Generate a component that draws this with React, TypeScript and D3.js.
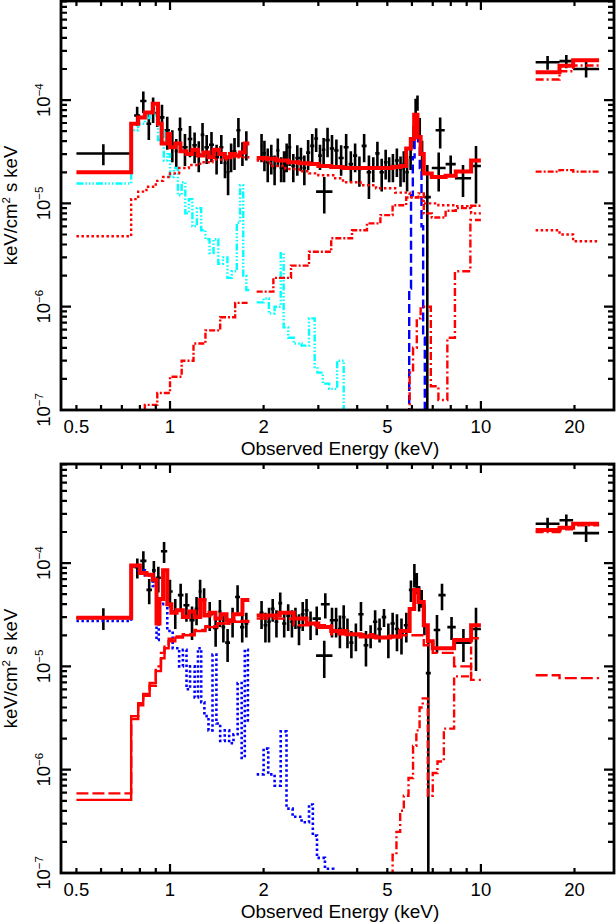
import * as d3 from 'd3'
import React from 'react'

// ---- layout ----
const W = 616
const H = 923
const X0 = 61
const X1 = 614
const PANEL_H = 409
const TOP_Y0 = 1
const BOT_Y0 = 464
const FONT = '"Liberation Sans", Arial, Helvetica, sans-serif'

// ---- axes ----
const E_MIN = 0.446
const E_MAX = 26.8
const F_MIN = 1e-7
const F_MAX = 9.1e-4
const xTickLabels = [0.5, 1, 2, 5, 10, 20]
const yTickExps = [-7, -6, -5, -4]

// ---- black data: [E, flux, err] (dense) and [Elo, Ehi, flux, err] (wide bins) ----
const topSoftData = [
  [0.784, 7.1e-5, 1.5e-5], [0.82, 9.8e-5, 2.3e-5], [0.86, 5.9e-5, 1.8e-5], [0.88, 8.3e-5, 2.3e-5],
  [0.91, 7.5e-5, 2.0e-5], [0.94, 6.8e-5, 2.2e-5], [0.98, 5.1e-5, 1.8e-5], [1.02, 3.8e-5, 1.3e-5],
  [1.05, 3.2e-5, 1.0e-5], [1.07, 5.2e-5, 1.6e-5], [1.12, 3.5e-5, 1.2e-5], [1.16, 4.2e-5, 1.4e-5],
  [1.2, 3.65e-5, 1.2e-5], [1.24, 3.0e-5, 1.0e-5], [1.27, 4.6e-5, 1.4e-5], [1.31, 3.5e-5, 1.1e-5],
  [1.36, 3.7e-5, 1.2e-5], [1.41, 2.8e-5, 9e-6], [1.47, 3.5e-5, 1.1e-5], [1.5, 2.45e-5, 7e-6],
  [1.54, 2.0e-5, 8e-6], [1.57, 2.9e-5, 9e-6], [1.61, 3.2e-5, 1.1e-5], [1.66, 5.1e-5, 1.6e-5],
  [1.71, 3.1e-5, 8e-6], [1.76, 3.8e-5, 1.2e-5],
]
const topHardData = [
  [1.97, 3.6e-5, 1.1e-5], [2.01, 3.05e-5, 1.0e-5], [2.06, 2.5e-5, 9e-6], [2.12, 2.8e-5, 9e-6],
  [2.17, 2.2e-5, 7e-6], [2.22, 3.25e-5, 1.0e-5], [2.28, 2.2e-5, 6e-6], [2.33, 2.4e-5, 8e-6],
  [2.37, 2.9e-5, 9e-6], [2.42, 3.5e-5, 1.2e-5], [2.49, 2.3e-5, 7e-6], [2.57, 2.75e-5, 9e-6],
  [2.64, 2.75e-5, 7e-6], [2.7, 2.2e-5, 7e-6], [2.78, 3.1e-5, 1.0e-5], [2.87, 3.6e-5, 1.1e-5],
  [2.95, 4.25e-5, 1.1e-5], [3.04, 2.9e-5, 8e-6], [3.12, 3.3e-5, 1.0e-5], [3.2, 4.1e-5, 1.3e-5],
  [3.33, 3.4e-5, 1.2e-5], [3.42, 3.25e-5, 9e-6], [3.55, 2.75e-5, 9e-6], [3.69, 3.5e-5, 1.2e-5],
  [3.82, 2.4e-5, 8e-6], [3.94, 2.9e-5, 9e-6], [4.06, 2.15e-5, 7e-6], [4.21, 3.6e-5, 1.1e-5],
  [4.37, 2.0e-5, 9e-6], [4.51, 2.2e-5, 6e-6], [4.64, 3.05e-5, 9e-6], [4.8, 2.0e-5, 7e-6],
  [4.95, 2.5e-5, 8e-6], [5.06, 2.2e-5, 6e-6], [5.21, 2.3e-5, 7e-6], [5.37, 2.6e-5, 8e-6],
  [5.52, 2.15e-5, 7e-6], [5.65, 2.4e-5, 8e-6], [5.78, 2.0e-5, 7e-6], [5.95, 2.8e-5, 7e-6],
  [6.09, 4.5e-5, 1.1e-5], [6.17, 8.5e-5, 1.8e-5], [6.24, 9.5e-5, 1.6e-5], [6.36, 5.4e-5, 1.3e-5],
  [6.47, 3.05e-5, 1.0e-5],
]
const topWideData = [
  [0.5, 0.745, 3.04e-5, 7e-6], [2.95, 3.33, 1.3e-5, 5e-6], [6.55, 6.9, 1.15e-5, 1.2e-5],
  [6.95, 7.7, 2.2e-5, 9e-6], [7.15, 7.65, 5.1e-5, 1.7e-5], [7.7, 8.3, 2.4e-5, 5e-6],
  [8.25, 9.3, 1.75e-5, 6e-6], [9.3, 10.0, 2.3e-5, 1.3e-5],
  [15.0, 17.9, 2.32e-4, 3.5e-5], [17.9, 19.8, 2.38e-4, 3.5e-5], [19.8, 24.0, 2.0e-4, 3.5e-5],
]

const botSoftData = [
  [0.785, 9.1e-5, 2.0e-5], [0.82, 1.05e-4, 2.5e-5], [0.86, 5.5e-5, 1.5e-5], [0.89, 8.5e-5, 2.0e-5],
  [0.91, 7.2e-5, 2.0e-5], [0.96, 1.3e-4, 3.0e-5], [1.0, 5.3e-5, 1.6e-5], [1.04, 3.4e-5, 1.1e-5],
  [1.08, 4.9e-5, 1.4e-5], [1.13, 3.9e-5, 1.2e-5], [1.18, 2.8e-5, 1.0e-5], [1.22, 3.6e-5, 1.1e-5],
  [1.25, 5.3e-5, 1.6e-5], [1.28, 4.4e-5, 1.3e-5], [1.34, 3.2e-5, 1.0e-5], [1.41, 2.35e-5, 8e-6],
  [1.45, 3.4e-5, 1.0e-5], [1.48, 2.4e-5, 7e-6], [1.53, 1.7e-5, 6e-6], [1.59, 2.8e-5, 9e-6],
  [1.65, 4.7e-5, 1.4e-5], [1.71, 2.4e-5, 7e-6], [1.76, 2.6e-5, 7e-6],
]
const botHardData = [
  [1.97, 3.3e-5, 1.0e-5], [2.03, 2.5e-5, 8e-6], [2.08, 2.7e-5, 1.0e-5], [2.14, 3.6e-5, 9e-6],
  [2.2, 2.7e-5, 8e-6], [2.26, 4.1e-5, 1.1e-5], [2.33, 2.6e-5, 7e-6], [2.4, 3.1e-5, 9e-6],
  [2.47, 2.7e-5, 8e-6], [2.53, 3.0e-5, 7e-6], [2.6, 2.4e-5, 8e-6], [2.67, 3.2e-5, 1.0e-5],
  [2.75, 3.5e-5, 1.0e-5], [2.83, 2.6e-5, 8e-6], [2.92, 2.9e-5, 9e-6], [3.2, 4.0e-5, 1.1e-5],
  [3.33, 2.8e-5, 9e-6], [3.42, 2.8e-5, 9e-6], [3.52, 2.3e-5, 8e-6], [3.62, 3.0e-5, 9e-6],
  [3.72, 2.2e-5, 7e-6], [3.83, 1.7e-5, 5e-6], [3.95, 2.0e-5, 6e-6], [4.12, 3.2e-5, 1.0e-5],
  [4.27, 1.6e-5, 6e-6], [4.42, 2.0e-5, 5e-6], [4.57, 2.7e-5, 8e-6], [4.72, 2.3e-5, 6e-6],
  [4.88, 3.0e-5, 6e-6], [5.04, 1.9e-5, 7e-6], [5.2, 2.6e-5, 7e-6], [5.37, 2.3e-5, 9e-6],
  [5.55, 2.1e-5, 8e-6], [5.75, 2.5e-5, 8e-6], [5.98, 5.5e-5, 1.3e-5], [6.12, 7.8e-5, 2.0e-5],
  [6.22, 6.5e-5, 1.5e-5], [6.32, 4.7e-5, 1.3e-5], [6.45, 4.6e-5, 9e-6], [6.58, 3.0e-5, 1.0e-5],
]
const botWideData = [
  [0.5, 0.745, 2.95e-5, 7e-6], [2.95, 3.33, 1.27e-5, 5e-6], [6.65, 6.9, 8.6e-6, 9.5e-6],
  [7.05, 7.4, 2.25e-5, 9e-6], [7.3, 7.7, 4.9e-5, 1.4e-5], [7.8, 8.3, 2.4e-5, 6e-6],
  [8.3, 9.3, 1.7e-5, 6e-6], [9.3, 10.0, 2.3e-5, 1.4e-5],
  [15.0, 17.9, 2.4e-4, 3.5e-5], [17.9, 19.8, 2.6e-4, 3.5e-5], [19.8, 24.0, 1.95e-4, 3.5e-5],
]

// ---- model step curves: bin edges + flux per bin (NaN = no bin) ----
const topTotalEdges = [
  0.5, 0.75, 0.79, 0.83, 0.88, 0.915, 0.94, 0.98, 1.0, 1.04, 1.08, 1.13, 1.18, 1.23, 1.28, 1.33,
  1.38, 1.44, 1.5, 1.56, 1.62, 1.68, 1.74, 1.8,
  1.9, 2.05, 2.2, 2.4, 2.6, 2.8, 3.0, 3.3, 3.6, 4.0, 4.4, 4.8, 5.2, 5.5, 5.75, 5.95, 6.1, 6.25,
  6.4, 6.55, 6.95, 7.7, 8.3, 9.3, 10.0,
  15.0, 17.9, 19.8, 24.0,
]
const topTotalFlux = [
  2.0e-5, 5.9e-5, 6.8e-5, 7.6e-5, 9.2e-5, 5.9e-5, 3.8e-5, 4.7e-5, 3.5e-5, 3.8e-5, 3.2e-5, 3.0e-5,
  3.3e-5, 2.9e-5, 3.1e-5, 2.8e-5, 3.3e-5, 3.0e-5, 2.8e-5, 3.0e-5, 2.9e-5, 3.1e-5, 3.8e-5,
  NaN,
  2.75e-5, 2.7e-5, 2.6e-5, 2.5e-5, 2.45e-5, 2.4e-5, 2.3e-5, 2.25e-5, 2.2e-5, 2.2e-5, 2.2e-5,
  2.2e-5, 2.25e-5, 2.3e-5, 3.4e-5, 4.2e-5, 7.2e-5, 4.4e-5, 3.0e-5, 1.95e-5, 1.8e-5, 1.85e-5,
  2.03e-5, 2.6e-5,
  NaN,
  1.86e-4, 2.15e-4, 2.43e-4,
]
const topSoftPlEdges = [
  0.5, 0.75, 0.79, 0.84, 0.9, 0.95, 1.0, 1.07, 1.15, 1.25, 1.37, 1.52, 1.8,
  1.9, 2.1, 2.35, 2.6, 2.8, 3.0, 3.35, 3.6, 4.1, 4.6, 5.3, 5.9, 6.5, 7.3, 8.3, 9.3, 10.0,
  15.0, 17.9, 19.8, 24.0,
]
const topSoftPlFlux = [
  4.8e-6, 1.1e-5, 1.3e-5, 1.45e-5, 1.65e-5, 1.8e-5, 1.95e-5, 2.2e-5, 2.35e-5, 2.5e-5, 2.65e-5, 2.8e-5,
  NaN,
  2.6e-5, 2.3e-5, 2.15e-5, 2.05e-5, 1.95e-5, 1.87e-5, 1.75e-5, 1.6e-5, 1.5e-5, 1.4e-5, 1.27e-5,
  1.15e-5, 1.0e-5, 9.6e-6, 9.4e-6, 8.0e-6,
  NaN,
  5.5e-6, 5.0e-6, 4.3e-6,
]
const topAbsPlEdges = [
  0.8, 0.83, 0.91, 1.0, 1.09, 1.19, 1.3, 1.45, 1.62, 1.8,
  1.9, 2.15, 2.45, 2.8, 3.3, 3.85, 4.3, 4.75, 5.2, 5.75, 6.3, 6.55, 6.95, 7.7, 8.3, 9.3, 10.0,
  15.0, 17.9, 19.8, 24.0,
]
const topAbsPlFlux = [
  5e-8, 1.12e-7, 1.46e-7, 2.1e-7, 3.0e-7, 4.4e-7, 5.9e-7, 7.9e-7, 1.09e-6,
  NaN,
  1.4e-6, 1.9e-6, 2.5e-6, 3.4e-6, 4.6e-6, 5.5e-6, 6.4e-6, 7.7e-6, 9.6e-6, 1.14e-5, 1.25e-5,
  8.0e-6, 7.3e-6, 8.5e-6, 9.0e-6, 9.5e-6,
  NaN,
  2.03e-5, 2.1e-5, 2.03e-5,
]
const topThickEdges = [5.6, 5.9, 6.05, 6.22, 6.4, 6.9, 7.3, 7.8, 8.25, 9.25, 10.0, 15.0, 17.9, 19.8, 24.0]
const topThickFlux = [5e-8, 2.3e-7, 4e-7, 7.7e-7, 1.0e-6, 1.7e-7, 1.25e-7, 5e-7, 2.2e-6, 6.9e-6, NaN, 1.58e-4, 1.9e-4, 2.16e-4]
const topLineEdges = [5.8, 5.88, 5.96, 6.04, 6.12, 6.2, 6.28, 6.36, 6.44, 6.52, 6.6, 6.68]
const topLineFlux = [5e-8, 1.5e-6, 1.2e-5, 2.8e-5, 4.3e-5, 5.0e-5, 4.0e-5, 2.2e-5, 6e-6, 5e-7, 3e-8]
const topThermalEdges = [
  0.5, 0.75, 0.79, 0.83, 0.86, 0.89, 0.915, 0.935, 0.955, 0.98, 1.0, 1.03, 1.06, 1.09, 1.12, 1.15,
  1.18, 1.22, 1.26, 1.3, 1.34, 1.38, 1.43, 1.48, 1.53, 1.58, 1.64, 1.68, 1.72, 1.76, 1.8,
  1.9, 2.0, 2.08, 2.17, 2.27, 2.32, 2.4, 2.5, 2.65, 2.8, 2.92, 2.98, 3.1, 3.25, 3.45, 3.62, 3.7,
]
const topThermalFlux = [
  1.56e-5, 5.1e-5, 5.9e-5, 6.7e-5, 7.6e-5, 7.1e-5, 4.1e-5, 5.0e-5, 2.6e-5, 3.0e-5, 1.8e-5, 2.2e-5,
  1.2e-5, 1.6e-5, 8e-6, 1.1e-5, 6e-6, 9e-6, 5.5e-6, 4.5e-6, 3.3e-6, 4.5e-6, 2.6e-6, 3.0e-6, 1.9e-6,
  2.2e-6, 6.5e-6, 1.5e-5, 2.0e-6, 1.45e-6,
  NaN,
  1.1e-6, 1.2e-6, 8.6e-7, 1.0e-6, 3.3e-6, 6.3e-7, 5.0e-7, 4.4e-7, 4.2e-7, 7.7e-7, 2.6e-7, 2.3e-7,
  1.8e-7, 1.6e-7, 3e-7, 5e-8,
]

const botTotalEdges = [
  0.5, 0.75, 0.8, 0.84, 0.88, 0.905, 0.925, 0.95, 0.98, 1.01, 1.05, 1.1, 1.15, 1.2, 1.25, 1.29,
  1.34, 1.4, 1.46, 1.52, 1.6, 1.71, 1.8,
  1.9, 2.25, 2.5, 2.75, 3.0, 3.3, 3.7, 4.1, 4.6, 5.1, 5.5, 5.9, 6.1, 6.3, 6.55, 6.75, 7.0, 8.2,
  9.3, 10.0,
  15.0, 17.9, 19.8, 24.0,
]
const botTotalFlux = [
  2.95e-5, 9.5e-5, 8.0e-5, 7.7e-5, 6.9e-5, 2.6e-5, 4.5e-5, 8.5e-5, 4.0e-5, 3.3e-5, 3.5e-5, 3.0e-5,
  3.4e-5, 3.0e-5, 4.4e-5, 3.1e-5, 3.3e-5, 2.9e-5, 3.2e-5, 2.8e-5, 3.2e-5, 4.4e-5,
  NaN,
  3.1e-5, 3.3e-5, 2.9e-5, 2.6e-5, 2.4e-5, 2.2e-5, 2.05e-5, 1.95e-5, 1.9e-5, 1.95e-5, 2.2e-5,
  3.6e-5, 5.5e-5, 4.2e-5, 2.5e-5, 1.75e-5, 1.5e-5, 1.8e-5, 2.5e-5,
  NaN,
  2.09e-4, 2.2e-4, 2.4e-4,
]
const botScatEdges = [
  0.5, 0.75, 0.79, 0.82, 0.86, 0.9, 0.935, 0.96, 0.99, 1.04, 1.1, 1.2, 1.3, 1.42, 1.55, 1.8,
  1.9, 2.5, 3.3, 4.5, 5.5, 6.55, 7.0, 8.2, 9.3, 10.0,
  15.0, 17.9, 24.0,
]
const botScatFlux = [
  5.9e-7, 3.3e-6, 4.4e-6, 5.4e-6, 6.5e-6, 1.0e-5, 1.35e-5, 1.6e-5, 1.85e-5, 1.95e-5, 2.05e-5,
  2.25e-5, 2.45e-5, 2.6e-5, 2.75e-5,
  NaN,
  2.9e-5, 2.5e-5, 2.05e-5, 1.9e-5, 2.0e-5, 1.6e-5, 1.35e-5, 1.0e-5, 7.4e-6,
  NaN,
  8.2e-6, 7.7e-6,
]
const botAbsEdges = [0.5, 0.75, 0.79, 0.82, 0.86, 0.9, 0.935, 0.96, 0.99, 1.04, 1.1, 1.2, 1.3, 1.42, 1.55, 1.8]
const botAbsFlux = [
  5.1e-7, 3.1e-6, 4.2e-6, 5.2e-6, 6.9e-6, 9.0e-6, 1.2e-5, 1.5e-5, 1.75e-5, 1.9e-5, 2.0e-5, 2.2e-5,
  2.4e-5, 2.6e-5, 2.7e-5,
]
const botThickEdges = [
  5.0, 5.2, 5.35, 5.5, 5.65, 5.85, 6.05, 6.2, 6.35, 6.5, 6.75, 7.0, 7.25, 7.6, 8.2, 9.3, 10.0,
  15.0, 17.9, 19.8, 24.0,
]
const botThickFlux = [
  5e-8, 1.5e-7, 2.5e-7, 4e-7, 5.6e-7, 8.3e-7, 1.7e-6, 2.4e-6, 4.0e-6, 4.9e-6, 5.6e-7, 9.3e-7,
  1.2e-6, 2.5e-6, 8e-6, 1.87e-5,
  NaN,
  2.0e-4, 2.12e-4, 2.32e-4,
]
const botThermalEdges = [
  0.5, 0.75, 0.79, 0.83, 0.88, 0.905, 0.92, 0.95, 0.98, 1.02, 1.07, 1.1, 1.13, 1.16, 1.2, 1.23,
  1.26, 1.29, 1.33, 1.37, 1.41, 1.45, 1.5, 1.55, 1.6, 1.65, 1.7, 1.74, 1.78, 1.8,
  1.9, 2.0, 2.07, 2.17, 2.27, 2.37, 2.48, 2.65, 2.8, 2.88, 2.97, 3.15, 3.35, 3.6,
]
const botThermalFlux = [
  2.75e-5, 9.3e-5, 8.5e-5, 7.6e-5, 6.0e-5, 1.8e-5, 4.0e-5, 8.0e-5, 2.2e-5, 1.5e-5, 1.0e-5, 1.45e-5,
  6e-6, 1.0e-5, 5e-6, 1.5e-5, 4.5e-6, 3.3e-6, 2.4e-6, 1.3e-5, 2.8e-6, 1.9e-6, 2.4e-6, 1.8e-6,
  2.2e-6, 6.9e-6, 1.3e-6, 1.45e-5, 3e-6,
  NaN,
  9e-7, 1.6e-6, 9e-7, 7e-7, 2.35e-6, 4.2e-7, 3.5e-7, 3.1e-7, 4.6e-7, 2.3e-7, 1.4e-7, 1.1e-7, 7e-8,
]

type Curve = { edges: number[]; flux: number[]; color: string; width: number; dash?: string }

const RED = '#ff0000'
const topCurves: Curve[] = [
  { edges: topThermalEdges, flux: topThermalFlux, color: '#00ffff', width: 2.4, dash: '7,2,1.5,2,1.5,2,1.5,2' },
  { edges: topLineEdges, flux: topLineFlux, color: '#0000ff', width: 2.4, dash: '9,4' },
  { edges: topSoftPlEdges, flux: topSoftPlFlux, color: RED, width: 2.4, dash: '2.5,2.5' },
  { edges: topAbsPlEdges, flux: topAbsPlFlux, color: RED, width: 2.4, dash: '6,2,2,2' },
  { edges: topThickEdges, flux: topThickFlux, color: RED, width: 2.4, dash: '8,3,2,3' },
  { edges: topTotalEdges, flux: topTotalFlux, color: RED, width: 4 },
]
const botCurves: Curve[] = [
  { edges: botThermalEdges, flux: botThermalFlux, color: '#0000ff', width: 2.6, dash: '2.5,2.5' },
  { edges: botAbsEdges, flux: botAbsFlux, color: RED, width: 2.4 },
  { edges: botScatEdges, flux: botScatFlux, color: RED, width: 2.4, dash: '12,4' },
  { edges: botThickEdges, flux: botThickFlux, color: RED, width: 2.4, dash: '8,3,2,3' },
  { edges: botTotalEdges, flux: botTotalFlux, color: RED, width: 4 },
]

// bin limits for densely sampled points: half way (in log) to the neighbours
function withBins(pts: number[][]) {
  return pts.map(([e, f, df], i) => {
    const prev = i > 0 ? pts[i - 1][0] : (e * e) / pts[i + 1][0]
    const next = i < pts.length - 1 ? pts[i + 1][0] : (e * e) / pts[i - 1][0]
    return [Math.sqrt(prev * e), Math.sqrt(e * next), f, df]
  })
}

function Panel({ y0, id, dense, wide, curves }: {
  y0: number
  id: string
  dense: number[][][]
  wide: number[][]
  curves: Curve[]
}) {
  const y1 = y0 + PANEL_H
  const x = d3.scaleLog().domain([E_MIN, E_MAX]).range([X0, X1])
  const y = d3.scaleLog().domain([F_MIN, F_MAX]).range([y1, y0])
  const yy = (v: number) => y(Math.max(v, 1e-12))

  const step = d3.line<[number, number]>()
    .defined(d => !isNaN(d[1]))
    .x(d => x(d[0]))
    .y(d => yy(d[1]))

  const curvePath = (c: Curve) => {
    const pts: [number, number][] = []
    c.flux.forEach((f, i) => { pts.push([c.edges[i], f], [c.edges[i + 1], f]) })
    return step(pts) ?? ''
  }

  const crosses = [...dense.flatMap(withBins), ...wide]
  const crossPath = crosses.map(([lo, hi, f, df]) => {
    const xc = x(Math.sqrt(lo * hi))
    return `M${x(lo)},${y(f)}H${x(hi)}M${xc},${y(f + df)}V${yy(f - df)}`
  }).join('')

  const xTicks = x.ticks()
  const yTicks = y.ticks().filter(v => v <= F_MAX)
  const isPow10 = (v: number) => Math.abs(Math.log10(v) - Math.round(Math.log10(v))) < 1e-6

  const tickPath = [
    ...xTicks.map(v => {
      const len = isPow10(v) ? 9 : 5
      return `M${x(v)},${y1}v${-len}M${x(v)},${y0}v${len}`
    }),
    ...yTicks.map(v => {
      const len = isPow10(v) ? 10 : 6
      return `M${X0},${y(v)}h${len}M${X1},${y(v)}h${-len}`
    }),
  ].join('')

  return (
    <g fontFamily={FONT} fill="#000">
      <defs>
        <clipPath id={id}>
          <rect x={X0} y={y0} width={X1 - X0} height={PANEL_H} />
        </clipPath>
      </defs>
      <g clipPath={`url(#${id})`}>
        <path d={crossPath} stroke="#000" strokeWidth={2.6} fill="none" />
        {curves.map((c, i) => (
          <path key={i} d={curvePath(c)} stroke={c.color} strokeWidth={c.width}
            strokeDasharray={c.dash} fill="none" strokeLinejoin="miter" />
        ))}
      </g>
      <path d={tickPath} stroke="#000" strokeWidth={2.2} fill="none" />
      <rect x={X0} y={y0} width={X1 - X0} height={PANEL_H} fill="none" stroke="#000" strokeWidth={2.8} />
      {xTickLabels.map(v => (
        <text key={v} x={x(v)} y={y1 + 22.5} textAnchor="middle" fontSize={18.5}>{v}</text>
      ))}
      {yTickExps.map(p => (
        <text key={p} transform={`translate(50,${y(10 ** p)}) rotate(-90)`} textAnchor="middle" fontSize={18.5}>
          10<tspan dy={-7} fontSize={11.5}>{'\u2212' + Math.abs(p)}</tspan>
        </text>
      ))}
      <text x={340} y={y1 + 45} textAnchor="middle" fontSize={19}>Observed Energy (keV)</text>
      <text transform={`translate(17,${(y0 + y1) / 2}) rotate(-90)`} textAnchor="middle" fontSize={18.5}>
        keV/cm<tspan dy={-7} fontSize={11.5}>2</tspan><tspan dy={7}> s keV</tspan>
      </text>
    </g>
  )
}

export default function App() {
  return (
    <svg width={W} height={H} viewBox={`0 0 ${W} ${H}`}
      style={{ position: 'absolute', left: 0, top: 0, background: '#fff' }}>
      <rect width={W} height={H} fill="#fff" />
      <Panel y0={TOP_Y0} id="clipTop" dense={[topSoftData, topHardData]} wide={topWideData} curves={topCurves} />
      <Panel y0={BOT_Y0} id="clipBot" dense={[botSoftData, botHardData]} wide={botWideData} curves={botCurves} />
    </svg>
  )
}
